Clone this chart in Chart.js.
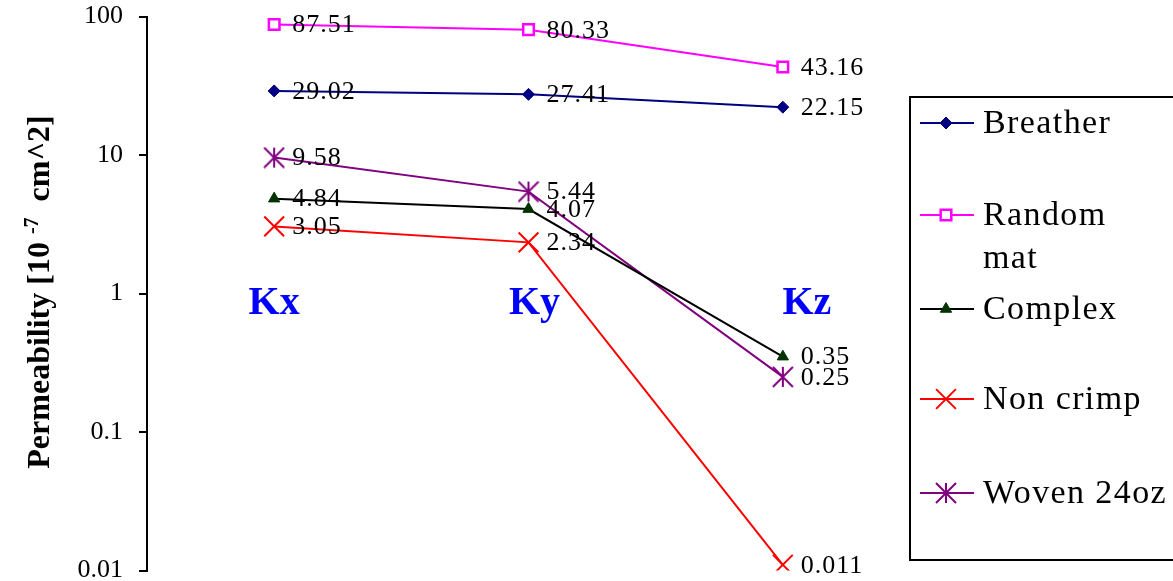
<!DOCTYPE html>
<html>
<head>
<meta charset="utf-8">
<script src="https://cdn.jsdelivr.net/npm/chart.js@4"></script>
<style>
  html, body { margin: 0; padding: 0; background: #fff; }
  #wrap { width: 1173px; height: 581px; }
</style>
</head>
<body>
<div id="wrap"><canvas id="grafico" width="1173" height="581"></canvas></div>
<script>
// datos
const categorias = ['Kx', 'Ky', 'Kz'];
const breather = [29.02, 27.41, 22.15];
const randomMat = [87.51, 80.33, 43.16];
const complex = [4.84, 4.07, 0.35];
const nonCrimp = [3.05, 2.34, 0.011];
const woven = [9.58, 5.44, 0.25];
const yTicks = [0.01, 0.1, 1, 10, 100];

// marcador asterisco (X + vertical) como en Excel
function hacerEstrella(color) {
  const c = document.createElement('canvas');
  c.width = 22; c.height = 22;
  const g = c.getContext('2d');
  g.strokeStyle = color;
  g.lineWidth = 2;
  g.beginPath();
  g.moveTo(1, 1); g.lineTo(21, 21);
  g.moveTo(21, 1); g.lineTo(1, 21);
  g.moveTo(11, 1); g.lineTo(11, 21);
  g.stroke();
  return c;
}
const estrella = hacerEstrella('#800080');

const datasets = [
  { label: 'Breather', data: breather, borderColor: '#000080', backgroundColor: '#000080',
    pointStyle: 'rectRot', pointRadius: 6, pointBorderWidth: 1, pointBorderColor: '#000080' },
  { label: 'Random mat', data: randomMat, borderColor: '#FF00FF', backgroundColor: '#FFFFFF',
    pointStyle: 'rect', pointRadius: 7.5, pointBorderWidth: 2.5, pointBorderColor: '#FF00FF' },
  { label: 'Complex', data: complex, borderColor: '#000000', backgroundColor: '#003300',
    pointStyle: 'triangle', pointRadius: 6.5, pointBorderWidth: 1, pointBorderColor: '#003300' },
  { label: 'Non crimp', data: nonCrimp, borderColor: '#FF0000', backgroundColor: '#FF0000',
    pointStyle: 'crossRot', pointRadius: 14, pointBorderWidth: 2, pointBorderColor: '#FF0000' },
  { label: 'Woven 24oz', data: woven, borderColor: '#800080', backgroundColor: '#800080',
    pointStyle: estrella, pointRadius: 11, pointBorderWidth: 2, pointBorderColor: '#800080' }
];
datasets.forEach(d => { d.borderWidth = 2; d.tension = 0; d.fill = false; });

// fija la zona del grafico (100 arriba en 16.5, 0.01 abajo en 570.5)
const ajusteArea = {
  id: 'ajusteArea',
  afterLayout(chart) {
    const a = chart.chartArea, y = chart.scales.y;
    a.top = 16.5; a.bottom = 570.5; a.height = a.bottom - a.top;
    y.top = a.top; y.bottom = a.bottom; y.height = a.height;
    y.configure();
  }
};

// etiquetas de valores a la derecha de cada punto
const etiquetasValores = {
  id: 'etiquetasValores',
  afterDatasetsDraw(chart) {
    const ctx = chart.ctx;
    ctx.save();
    ctx.font = "26px 'Liberation Serif', 'Times New Roman', serif";
    ctx.letterSpacing = '1px';
    ctx.fillStyle = '#000';
    ctx.textAlign = 'left';
    ctx.textBaseline = 'middle';
    chart.data.datasets.forEach((ds, i) => {
      chart.getDatasetMeta(i).data.forEach((p, j) => {
        ctx.fillText(String(ds.data[j]), p.x + 18, p.y + 1);
      });
    });
    ctx.restore();
  }
};

// Kx Ky Kz en azul, a la altura de 1
const etiquetasCat = {
  id: 'etiquetasCat',
  afterDraw(chart) {
    const ctx = chart.ctx;
    const xs = chart.scales.x, ys = chart.scales.y;
    const nudge = [0, 6, 24];
    ctx.save();
    ctx.font = "bold 40px 'Liberation Serif', 'Times New Roman', serif";
    ctx.fillStyle = '#0000FF';
    ctx.textAlign = 'center';
    ctx.textBaseline = 'alphabetic';
    categorias.forEach((c, i) => {
      ctx.fillText(c, xs.getPixelForValue(i) + nudge[i], ys.getPixelForValue(1) + 20);
    });
    ctx.restore();
  }
};

// titulo del eje Y con superindice
const tituloY = {
  id: 'tituloY',
  afterDraw(chart) {
    const ctx = chart.ctx;
    const big = "bold 32px 'Liberation Serif', 'Times New Roman', serif";
    const small = "bold 20px 'Liberation Serif', 'Times New Roman', serif";
    const p1 = 'Permeability [10 ', p2 = '-7', p3 = '  cm^2]';
    ctx.save();
    ctx.font = big;
    const w1 = ctx.measureText(p1).width, w3 = ctx.measureText(p3).width;
    ctx.font = small;
    const w2 = ctx.measureText(p2).width;
    const total = w1 + w2 + w3;
    ctx.translate(49, 292);
    ctx.rotate(-Math.PI / 2);
    ctx.fillStyle = '#000';
    ctx.textBaseline = 'alphabetic';
    let x = -total / 2;
    ctx.font = big; ctx.fillText(p1, x, 0); x += w1;
    ctx.font = small; ctx.fillText(p2, x, -11); x += w2;
    ctx.font = big; ctx.fillText(p3, x, 0);
    ctx.restore();
  }
};

// leyenda con recuadro a la derecha
const leyenda = {
  id: 'leyenda',
  afterDraw(chart) {
    const ctx = chart.ctx;
    const filas = [[123], [215, 258], [309], [399], [493]];
    const textos = [['Breather'], ['Random', 'mat'], ['Complex'], ['Non crimp'], ['Woven 24oz']];
    ctx.save();
    ctx.strokeStyle = '#000';
    ctx.lineWidth = 2;
    ctx.strokeRect(910, 97, 270, 463);
    chart.data.datasets.forEach((ds, i) => {
      const y = filas[i][0];
      ctx.strokeStyle = ds.borderColor;
      ctx.lineWidth = 2;
      ctx.beginPath(); ctx.moveTo(920, y); ctx.lineTo(974, y); ctx.stroke();
      ctx.fillStyle = ds.backgroundColor;
      ctx.strokeStyle = ds.pointBorderColor;
      ctx.lineWidth = ds.pointBorderWidth;
      if (Chart.helpers && Chart.helpers.drawPoint) {
        Chart.helpers.drawPoint(ctx, { pointStyle: ds.pointStyle, rotation: 0,
          radius: ds.pointRadius, borderWidth: ds.pointBorderWidth }, 946, y);
      }
      ctx.fillStyle = '#000';
      ctx.font = "34px 'Liberation Serif', 'Times New Roman', serif";
      ctx.letterSpacing = '1.4px';
      ctx.textAlign = 'left';
      ctx.textBaseline = 'middle';
      textos[i].forEach((t, k) => ctx.fillText(t, 983, filas[i][k] + 1));
      ctx.letterSpacing = '0px';
    });
    ctx.restore();
  }
};

new Chart(document.getElementById('grafico'), {
  type: 'line',
  data: { labels: categorias, datasets: datasets },
  options: {
    responsive: false,
    devicePixelRatio: 1,
    animation: false,
    layout: { padding: { left: 0, right: 263, top: 16.5, bottom: 10.5 } },
    plugins: { legend: { display: false }, tooltip: { enabled: false } },
    scales: {
      x: { type: 'category', offset: true, display: false },
      y: {
        type: 'logarithmic',
        min: 0.01,
        max: 100,
        afterBuildTicks: (s) => { s.ticks = yTicks.map(v => ({ value: v })); },
        afterFit: (s) => { s.width = 147; },
        border: { display: true, color: '#000', width: 2 },
        grid: { drawOnChartArea: false, drawTicks: true, tickLength: 8, color: '#000', lineWidth: 2 },
        ticks: {
          padding: 16,
          color: '#000',
          font: { family: "'Liberation Serif', 'Times New Roman', serif", size: 26, lineHeight: 1 },
          callback: (v) => String(v)
        }
      }
    }
  },
  plugins: [ajusteArea, etiquetasValores, etiquetasCat, tituloY, leyenda]
});
</script>
</body>
</html>
